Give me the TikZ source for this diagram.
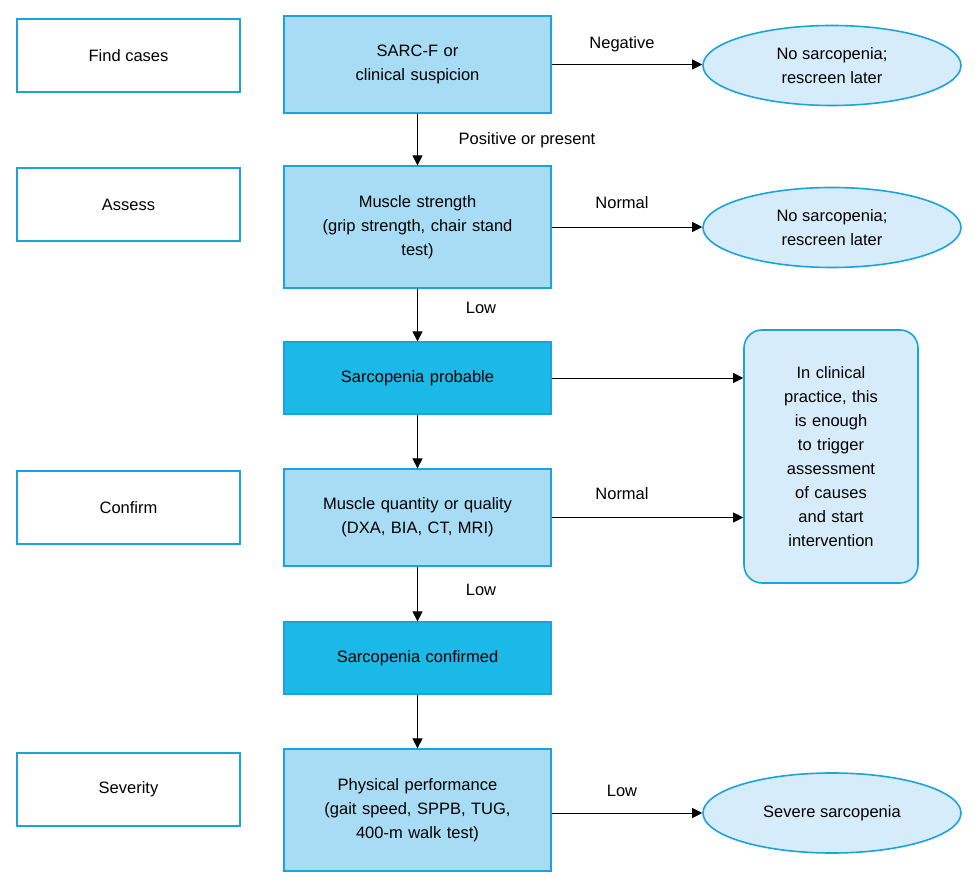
\documentclass[tikz,border=0pt]{standalone}
\usepackage{fontspec}
\setmainfont{Liberation Sans}
\usetikzlibrary{arrows.meta,shapes.geometric}
\definecolor{edgeblue}{HTML}{1BA3DE}
\definecolor{lightfill}{HTML}{A8DCF4}
\definecolor{darkfill}{HTML}{1BB9E8}
\definecolor{palefill}{HTML}{D6ECFA}
\begin{document}
\begin{tikzpicture}[x=1pt,y=-1pt,
    every node/.style={font=\fontsize{16.5}{24}\selectfont,align=center},
    stage/.style={draw=edgeblue,line width=1.2pt,fill=white,minimum width=223pt,minimum height=73pt},
    test/.style={draw=edgeblue,line width=1.2pt,fill=lightfill,minimum width=267pt,text width=250pt},
    key/.style={test,fill=darkfill,minimum height=72pt},
    outcome/.style={ellipse,draw=edgeblue,line width=1.6pt,fill=palefill,minimum width=258pt,minimum height=80pt,inner sep=0pt},
    note/.style={draw=edgeblue,line width=1.6pt,fill=palefill,rounded corners=18pt,minimum width=174pt,minimum height=253pt,text width=150pt},
    link/.style={-{Triangle[length=10pt,width=10pt]},line width=0.8pt},
    tag/.style={font=\fontsize{16.5}{24}\selectfont}]
  \useasboundingbox[fill=white] (0,0) rectangle (978,890);

  % Left column
  \node[stage] (cases) at (128.5,55.5) {Find cases};
  \node[stage] (assess) at (128.5,204.5) {Assess};
  \node[stage] (confirm) at (128.5,507.5) {Confirm};
  \node[stage] (severity) at (128.5,789.5) {Severity};

  % Middle column
  \node[test,minimum height=97pt] (sarcf) at (417.5,64.5) {SARC-F or\\clinical suspicion};
  \node[test,minimum height=122pt] (strength) at (417.5,227) {Muscle strength\\(grip strength, chair stand\\test)};
  \node[key] (probable) at (417.5,378) {Sarcopenia probable};
  \node[test,minimum height=97pt] (quantity) at (417.5,517.5) {Muscle quantity or quality\\(DXA, BIA, CT, MRI)};
  \node[key] (confirmed) at (417.5,658) {Sarcopenia confirmed};
  \node[test,minimum height=122pt] (performance) at (417.5,810) {Physical performance\\(gait speed, SPPB, TUG,\\400-m walk test)};

  % Right column
  \node[outcome] (none1) at (832,65.5) {No sarcopenia;\\rescreen later};
  \node[outcome] (none2) at (832,227.5) {No sarcopenia;\\rescreen later};
  \node[outcome] (severe) at (832,813) {Severe sarcopenia};
  \node[note] (practice) at (831,456.5) {In clinical\\practice, this\\is enough\\to trigger\\assessment\\of causes\\and start\\intervention};

  % Vertical flow
  \draw[link] (sarcf) -- (strength);
  \draw[link] (strength) -- (probable);
  \draw[link] (probable) -- (quantity);
  \draw[link] (quantity) -- (confirmed);
  \draw[link] (confirmed) -- (performance);

  % Side branches
  \draw[link] (sarcf.east) -- (sarcf.east -| none1.west);
  \draw[link] (strength.east) -- (strength.east -| none2.west);
  \draw[link] (probable.east) -- (probable.east -| practice.west);
  \draw[link] (quantity.east) -- (quantity.east -| practice.west);
  \draw[link] (performance.east |- severe) -- (severe.west);

  % Branch labels
  \node[tag] (lneg) at (622,44) {Negative};
  \node[tag] (lpos) at (527,140) {Positive or present};
  \node[tag] (lnorm1) at (622,203) {Normal};
  \node[tag] (llow1) at (481,308) {Low};
  \node[tag] (lnorm2) at (622,494) {Normal};
  \node[tag] (llow2) at (481,590) {Low};
  \node[tag] (llow3) at (622,791) {Low};
\end{tikzpicture}
\end{document}
